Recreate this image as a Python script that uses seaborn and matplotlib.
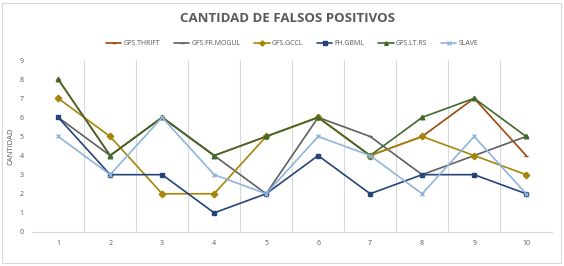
"""
Line chart: false positives per run for each classifier
"""
import pandas as pd
import matplotlib.pyplot as plt
import seaborn as sns
from matplotlib.ticker import FixedLocator

runs = [1, 2, 3, 4, 5, 6, 7, 8, 9, 10]
thrift = [8, 4, 6, 4, 5, 6, 4, 5, 7, 4]
fr_mogul = [6, 4, 6, 4, 2, 6, 5, 3, 4, 5]
gccl = [7, 5, 2, 2, 5, 6, 4, 5, 4, 3]
gbml = [6, 3, 3, 1, 2, 4, 2, 3, 3, 2]
lt_rs = [8, 4, 6, 4, 5, 6, 4, 6, 7, 5]
slave = [5, 3, 6, 3, 2, 5, 4, 2, 5, 2]

series_names = ["GFS.THRIFT", "GFS.FR.MOGUL", "GFS.GCCL", "FH.GBML", "GFS.LT.RS", "SLAVE"]
series_values = [thrift, fr_mogul, gccl, gbml, lt_rs, slave]
colors = ["#9E480E", "#5F5F5F", "#A5850A", "#264478", "#43682B", "#8FB4DA"]
markers = ["_", "_", "D", "s", "^", "x"]

sns.set_style("white")
plt.rcParams['font.family'] = ['Open Sans', 'DejaVu Sans']

fig = plt.figure(figsize=(5.64, 2.66), dpi=100)
ax = fig.add_axes([0.057, 0.128, 0.922, 0.646])

for name, values, color, marker in zip(series_names, series_values, colors, markers):
    frame = pd.DataFrame({"run": runs, "count": values})
    sns.lineplot(data=frame, x="run", y="count", color=color, marker=marker,
                 markersize=3.3, linewidth=1.2, markeredgewidth=1,
                 markeredgecolor=color, label=name, ax=ax)

ax.set_xlim(0.5, 10.5)
ax.set_ylim(0, 9)
ax.set_xticks(runs)
ax.set_yticks(range(0, 10))
ax.xaxis.set_minor_locator(FixedLocator([r + 0.5 for r in runs[:-1]]))
ax.grid(which="minor", axis="x", color="#D9D9D9", linewidth=0.8)
ax.grid(which="major", axis="x", visible=False)
ax.set_axisbelow(True)
ax.tick_params(axis="both", which="both", length=0, labelsize=5, colors="#595959", pad=6)
for side in ["top", "right", "left"]:
    ax.spines[side].set_visible(False)
ax.spines["bottom"].set_color("#D9D9D9")
ax.set_xlabel("")
ax.set_ylabel("CANTIDAD", fontsize=5.5, color="#595959")

handles, labels = ax.get_legend_handles_labels()
ax.legend(handles, labels, loc="lower center", bbox_to_anchor=(0.5, 1.06), ncol=6,
          frameon=False, fontsize=5, labelcolor="#595959", handlelength=2.2,
          columnspacing=2.0, handletextpad=0.3, borderaxespad=0, markerscale=0.8)

fig.suptitle("CANTIDAD DE FALSOS POSITIVOS", x=0.51, y=0.955, fontsize=9.5,
             fontweight="bold", color="#595959")

fig.patches.append(plt.Rectangle((0.004, 0.01), 0.99, 0.98, transform=fig.transFigure,
                                 fill=False, edgecolor="#D9D9D9", linewidth=0.8))

fig.savefig("out.png", dpi=100)
